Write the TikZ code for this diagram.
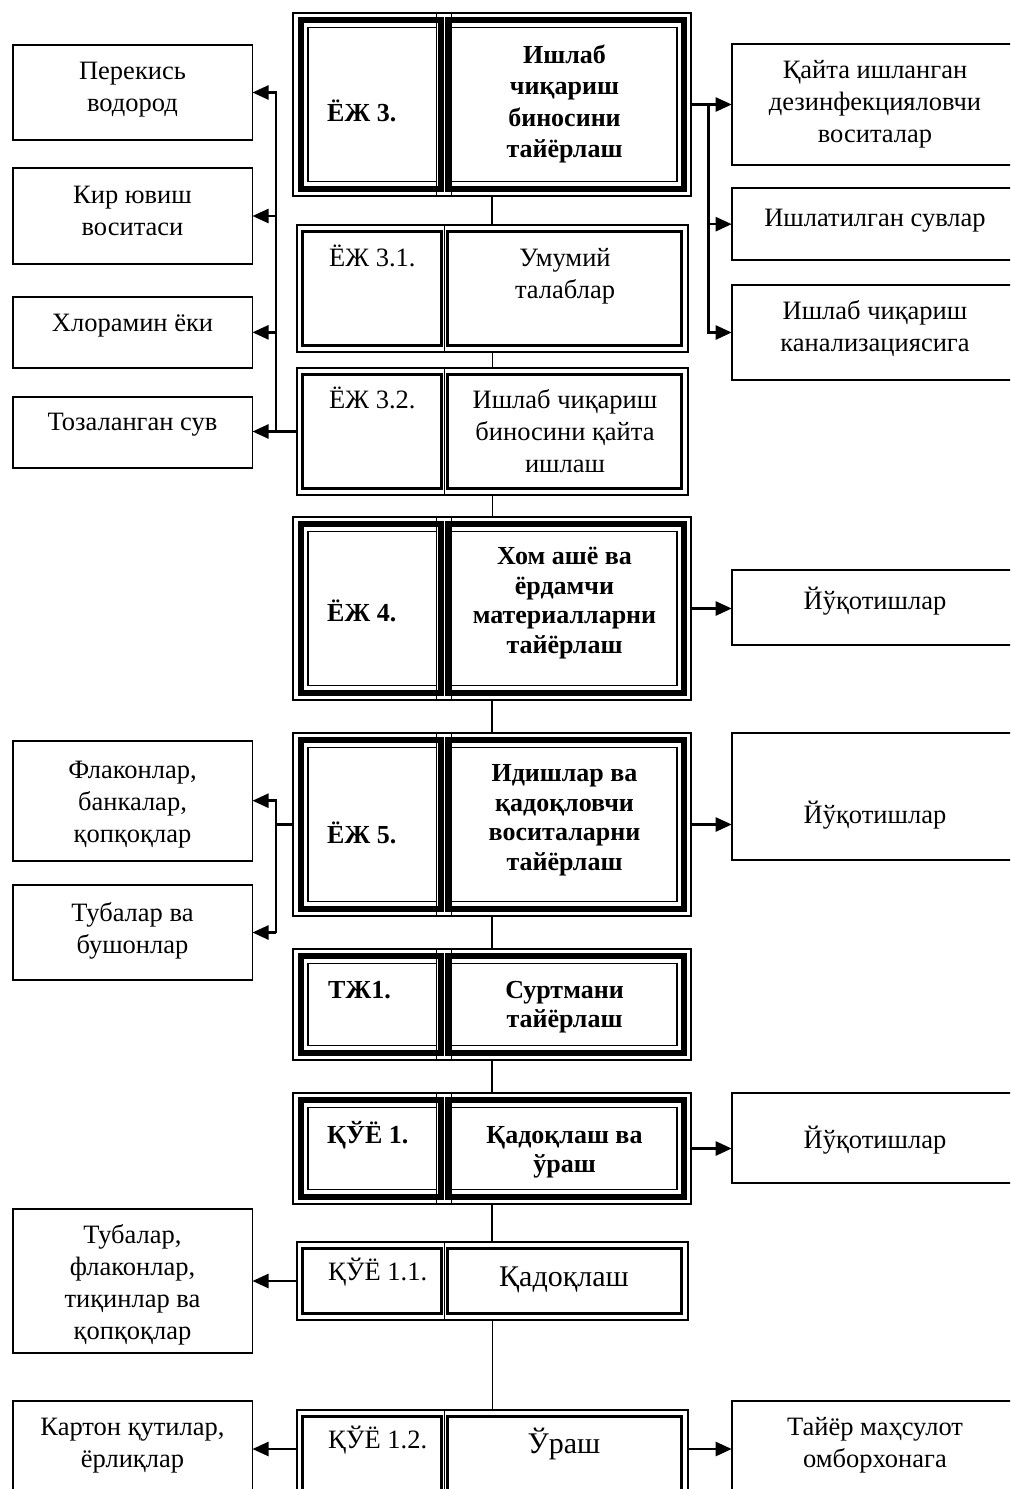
\documentclass[tikz,border=0pt]{standalone}
\usepackage{fontspec}
\setmainfont{Liberation Serif}
\usetikzlibrary{arrows.meta}
\tikzset{
  sbox/.style={draw, line width=1.8pt, inner sep=0pt, outer sep=0pt, anchor=north west},
  blk/.style={draw, line width=1.3pt, inner sep=0pt, outer sep=0pt, anchor=north west},
  thinln/.style={line width=1.3pt},
  thickln/.style={line width=5.8pt},
  medln/.style={line width=3pt},
  conn/.style={line width=1.5pt},
  busln/.style={line width=2.5pt},
  arr/.style={line width=2.5pt, -{Triangle[length=16pt,width=14pt]}},
  txt/.style={align=center, inner sep=0pt, anchor=base, font=\fontsize{26.5}{32}\selectfont},
  btxt/.style={align=center, inner sep=0pt, anchor=base, font=\fontsize{26}{29.5}\selectfont\bfseries},
  ltxt/.style={inner sep=0pt, anchor=base west, font=\fontsize{26.5}{32}\selectfont},
  lbtxt/.style={inner sep=0pt, anchor=base west, font=\fontsize{26}{32}\selectfont\bfseries},
  bigtxt/.style={inner sep=0pt, anchor=base, font=\fontsize{30}{36}\selectfont}
}
\newcommand\sidebox[5]{\node[sbox, minimum width={(#4)-(#2)}, minimum height={(#5)-(#3)}] (#1) at (#2,#3) {};}
\newcommand\triblk[3]{%
  \node[blk, minimum width=398pt, minimum height={(#3)-(#2)}] (#1) at (293,#2) {};
  \draw[thickln] (300.7,#2+7.3) rectangle (440.7,#3-7.3);
  \draw[thickln] (447.9,#2+7.3) rectangle (684.2,#3-7.3);
  \draw[thinln] (308,#2+14.7) rectangle (436.7,#3-14.7);
  \draw[thinln] (451.7,#2+14.7) rectangle (677,#3-14.7);
  \draw[thinln] (436.7,#2) -- (436.7,#3) (451.7,#2) -- (451.7,#3);
}
\newcommand\dblblk[3]{%
  \node[blk, minimum width=391pt, minimum height={(#3)-(#2)}] (#1) at (297,#2) {};
  \draw[medln] (302.8,#2+6.3) rectangle (441.5,#3-6.3);
  \draw[medln] (447.3,#2+6.3) rectangle (681.5,#3-6.3);
  \draw[thinln] (444.4,#2) -- (444.4,#3);
}
\begin{document}
\begin{tikzpicture}[x=1pt,y=-1pt]
\useasboundingbox (0,0) rectangle (1010,1489);
\clip (0,0) rectangle (1010,1489);

% main column
\triblk{B3}{13}{196}
\dblblk{B31}{225}{352}
\dblblk{B32}{368}{495}
\triblk{B4}{517}{700}
\triblk{B5}{733}{916}
\triblk{T1}{949}{1060}
\triblk{Q1}{1093}{1204}
\dblblk{Q11}{1242}{1320}
\dblblk{Q12}{1410}{1540}

% left boxes
\sidebox{L1}{12.7}{45}{252.5}{140}
\sidebox{L2}{12.7}{168}{252.5}{264}
\sidebox{L3}{12.7}{296.7}{252.5}{368}
\sidebox{L4}{12.7}{396.7}{252.5}{467.7}
\sidebox{L5}{12.7}{740.7}{252.5}{860.7}
\sidebox{L6}{12.7}{885}{252.5}{980}
\sidebox{L7}{12.7}{1209}{252.5}{1352.7}
\sidebox{L8}{12.7}{1401}{252.5}{1500}

% right boxes
\sidebox{R1}{731.7}{44}{1018}{165}
\sidebox{R2}{731.7}{188.3}{1018}{260}
\sidebox{R3}{731.7}{285}{1018}{380}
\sidebox{R4}{731.7}{570}{1018}{645}
\sidebox{R5}{731.7}{733}{1018}{860}
\sidebox{R6}{731.7}{1093}{1018}{1183}
\sidebox{R7}{731.7}{1401}{1018}{1500}

% texts of side boxes (anchor = baseline of the last line)
\node[txt] (L1t) at (132.5,111.5) {Перекись\\водород};
\node[txt] (L2t) at (132.5,235) {Кир ювиш\\воситаси};
\node[txt] (L3t) at (132.5,331.7) {Хлорамин ёки};
\node[txt] (L4t) at (132.5,430) {Тозаланган сув};
\node[txt] (L5t) at (132.5,842) {Флаконлар,\\банкалар,\\қопқоқлар};
\node[txt] (L6t) at (132.5,953) {Тубалар ва\\бушонлар};
\node[txt] (L7t) at (132.5,1339) {Тубалар,\\флаконлар,\\тиқинлар ва\\қопқоқлар};
\node[txt] (L8t) at (132.5,1467) {Картон қутилар,\\ёрлиқлар};

\node[txt] (R1t) at (875,142) {Қайта ишланган\\дезинфекцияловчи\\воситалар};
\node[txt] (R2t) at (875,226) {Ишлатилган сувлар};
\node[txt] (R3t) at (875,351) {Ишлаб чиқариш\\канализациясига};
\node[txt] (R4t) at (875,609) {Йўқотишлар};
\node[txt] (R5t) at (875,823) {Йўқотишлар};
\node[txt] (R6t) at (875,1148) {Йўқотишлар};
\node[txt] (R7t) at (875,1467) {Тайёр маҳсулот\\омборхонага};

% texts of main blocks
\node[lbtxt] (B3l) at (327,121.7) {ЁЖ 3.};
\node[btxt, font=\fontsize{26}{31.5}\selectfont\bfseries] (B3r) at (564.5,157.5) {Ишлаб\\чиқариш\\биносини\\тайёрлаш};
\node[ltxt] (B31l) at (329,266.7) {ЁЖ 3.1.};
\node[txt] (B31r) at (565,298.7) {Умумий\\талаблар};
\node[ltxt] (B32l) at (329,408.3) {ЁЖ 3.2.};
\node[txt] (B32r) at (565,472.5) {Ишлаб чиқариш\\биносини қайта\\ишлаш};
\node[lbtxt] (B4l) at (327,621.7) {ЁЖ 4.};
\node[btxt] (B4r) at (564.5,653) {Хом ашё ва\\ёрдамчи\\материалларни\\тайёрлаш};
\node[lbtxt] (B5l) at (327,843.3) {ЁЖ 5.};
\node[btxt] (B5r) at (564.5,870) {Идишлар ва\\қадоқловчи\\воситаларни\\тайёрлаш};
\node[lbtxt] (T1l) at (328,998) {ТЖ1.};
\node[btxt] (T1r) at (564.5,1027.5) {Суртмани\\тайёрлаш};
\node[lbtxt] (Q1l) at (327,1143) {ҚЎЁ 1.};
\node[btxt] (Q1r) at (564.5,1172.5) {Қадоқлаш ва\\ўраш};
\node[ltxt] (Q11l) at (328,1280) {ҚЎЁ 1.1.};
\node[bigtxt] (Q11r) at (564,1286.7) {Қадоқлаш};
\node[ltxt] (Q12l) at (328,1448) {ҚЎЁ 1.2.};
\node[bigtxt] (Q12r) at (564,1453) {Ўраш};

% main vertical connectors
\draw[conn] (B3.south) -- (B3.south |- B31.north);
\draw[conn] (B31.south) -- (B31.south |- B32.north);
\draw[conn] (B32.south) -- (B32.south |- B4.north);
\draw[conn] (B4.south) -- (B4.south |- B5.north);
\draw[conn] (B5.south) -- (B5.south |- T1.north);
\draw[conn] (T1.south) -- (T1.south |- Q1.north);
\draw[conn] (Q1.south) -- (Q1.south |- Q11.north);
\draw[conn] (Q11.south) -- (Q11.south |- Q12.north);

% left bus (top)
\coordinate (lbus) at (276,0);
\draw[arr] (B32.west) -- (B32.west -| L4.east);
\draw[arr] (lbus |- L4.east) |- (L1.east);
\draw[arr] (lbus |- L2.east) -- (L2.east);
\draw[arr] (lbus |- L3.east) -- (L3.east);

% right bus (top)
\coordinate (rbus) at (708.3,0);
\draw[arr] (B3.east) -- (B3.east -| R1.west);
\draw[arr] (rbus |- B3.east) |- (R3.west);
\draw[arr] (rbus |- R2.west) -- (R2.west);

% losses
\draw[arr] (B4.east) -- (B4.east -| R4.west);
\draw[arr] (B5.east) -- (B5.east -| R5.west);
\draw[arr] (Q1.east) -- (Q1.east -| R6.west);

% left bus (ЁЖ 5)
\draw[busln] (B5.west) -- (lbus |- B5.west);
\draw[arr] (lbus |- L6.east) |- (L5.east);
\draw[arr] (lbus |- L6.east) -- (L6.east);

% packing
\draw[arr] (Q11.west) -- (Q11.west -| L7.east);
\coordinate (qa) at (0,1449);
\draw[arr] (Q12.west |- qa) -- (L8.east |- qa);
\draw[arr] (Q12.east |- qa) -- (R7.west |- qa);
\end{tikzpicture}
\end{document}
